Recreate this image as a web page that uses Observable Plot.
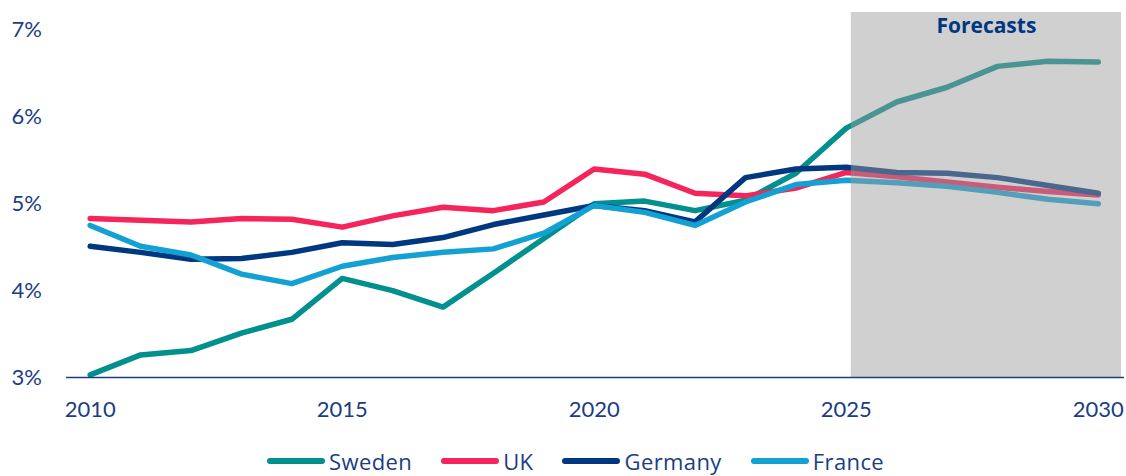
<!DOCTYPE html>
<html>
<head>
<meta charset="utf-8">
<script src="https://cdn.jsdelivr.net/npm/d3@7"></script>
<script src="https://cdn.jsdelivr.net/npm/@observablehq/plot@0.6"></script>
<style>
  html, body { margin: 0; padding: 0; background: #fff; overflow: hidden; }
  body { width: 1126px; height: 476px; font-family: Lato, "Open Sans", sans-serif; }
  #legend { display: flex; justify-content: flex-start; align-items: center; font-family: "Open Sans", sans-serif; font-size: 22px; line-height: 26px; letter-spacing: 0.4px; color: #1b3d82; height: 26px; padding-left: 267px; margin-top: 3px; }
  .item { display: flex; align-items: center; gap: 4px; margin-right: 29px; }
  .sw { width: 58px; height: 6px; border-radius: 3px; }
</style>
</head>
<body>
<div id="chart"></div>
<div id="legend"></div>
<script>
const years = d3.range(2010, 2031);
const countries = ["Sweden", "UK", "Germany", "France"];
const colors = ["#00908d", "#f5245a", "#003781", "#13a0d3"];
const sweden = [3.03, 3.26, 3.31, 3.51, 3.67, 4.14, 4.00, 3.81, 4.20, 4.60, 5.00, 5.03, 4.92, 5.04, 5.35, 5.87, 6.17, 6.34, 6.58, 6.64, 6.63];
const uk = [4.83, 4.81, 4.79, 4.83, 4.82, 4.73, 4.86, 4.96, 4.92, 5.02, 5.40, 5.34, 5.12, 5.09, 5.18, 5.36, 5.31, 5.25, 5.19, 5.14, 5.10];
const germany = [4.51, 4.44, 4.36, 4.37, 4.44, 4.55, 4.53, 4.61, 4.76, 4.87, 4.98, 4.92, 4.79, 5.30, 5.40, 5.42, 5.36, 5.35, 5.30, 5.21, 5.12];
const france = [4.75, 4.51, 4.41, 4.19, 4.08, 4.28, 4.38, 4.44, 4.48, 4.66, 4.98, 4.90, 4.75, 5.02, 5.22, 5.27, 5.24, 5.20, 5.13, 5.05, 5.00];
const yTicks = [3, 4, 5, 6, 7];
const xTicks = [2010, 2015, 2020, 2025, 2030];
const forecastStart = 2025.1, forecastEnd = 2030.46;
const forecastLabel = "Forecasts";

const seriesValues = [sweden, uk, germany, france];
const rows = [];
countries.forEach((c, i) => years.forEach((y, j) => rows.push({country: c, year: y, value: seriesValues[i][j]})));

const navy = "#1b3d82";
const chart = Plot.plot({
  width: 1126,
  height: 445,
  marginLeft: 66,
  marginRight: 2,
  marginTop: 12,
  marginBottom: 68,
  style: { fontFamily: "Lato, 'Open Sans', sans-serif", fontSize: "22px", color: navy, background: "#fff" },
  x: { domain: [2009.53, 2030.52], ticks: xTicks, tickFormat: d => String(d), tickSize: 0, tickPadding: 24, label: null },
  y: { domain: [3, 7.2], ticks: yTicks, tickFormat: d => d + "%", tickSize: 0, tickPadding: 56, label: null },
  color: { domain: countries, range: colors },
  marks: [
    Plot.axisY({ ticks: yTicks, tickFormat: d => d + "%", tickSize: 0, tickPadding: 55, textAnchor: "start", label: null, fill: navy, fontSize: 22 }),
    Plot.axisX({ ticks: xTicks, tickFormat: d => String(d), tickSize: 0, tickPadding: 24, label: null, fill: navy, fontSize: 22 }),
    Plot.lineY(rows, { x: "year", y: "value", z: "country", stroke: "country", strokeWidth: 5.5, strokeLinecap: "round", strokeLinejoin: "round" }),
    Plot.rect([{x1: forecastStart, x2: forecastEnd, y1: 3, y2: 7.2}], { x1: "x1", x2: "x2", y1: "y1", y2: "y2", fill: "#9c9c9c", fillOpacity: 0.475 }),
    Plot.ruleY([3], { stroke: navy, strokeWidth: 1.5 }),
    Plot.text([forecastLabel], { x: (forecastStart + forecastEnd) / 2, y: 7.2, dy: 14, text: d => d, fill: "#003781", fontWeight: "bold", fontSize: 21, fontFamily: "'Open Sans', sans-serif", frameAnchor: "middle" })
  ]
});
document.getElementById("chart").appendChild(chart);

const legend = document.getElementById("legend");
countries.forEach((c, i) => {
  const it = document.createElement("div");
  it.className = "item";
  const sw = document.createElement("div");
  sw.className = "sw";
  sw.style.background = colors[i];
  const t = document.createElement("span");
  t.textContent = c;
  it.appendChild(sw); it.appendChild(t);
  legend.appendChild(it);
});
</script>
</body>
</html>
